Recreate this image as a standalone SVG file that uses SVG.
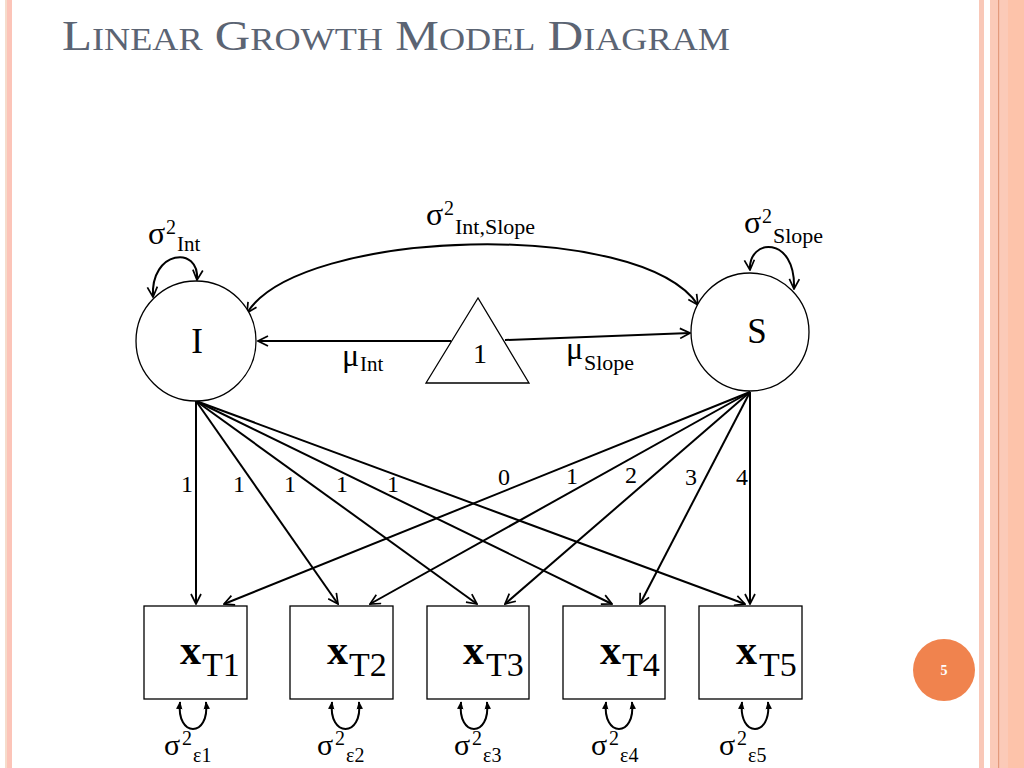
<svg xmlns="http://www.w3.org/2000/svg" width="1024" height="768" viewBox="0 0 1024 768">
<style>
.serif{font-family:"Liberation Serif","Times New Roman",serif;fill:#000}
.ln{stroke:#000;stroke-width:2;fill:none}
.nd{stroke:#000;stroke-width:1.3;fill:#fff}
</style>
<defs>
<marker id="arr" viewBox="0 0 12 12" refX="11" refY="6" markerWidth="12" markerHeight="12" orient="auto-start-reverse" markerUnits="userSpaceOnUse">
<path d="M1,1 L11,6 L1,11" fill="none" stroke="#000" stroke-width="1.7"/>
</marker>
<marker id="sm" viewBox="0 0 10 10" refX="9" refY="5" markerWidth="8" markerHeight="8" orient="auto-start-reverse" markerUnits="userSpaceOnUse">
<path d="M0,1 L10,5 L0,9 Z" fill="#000"/>
</marker>
</defs>
<rect width="1024" height="768" fill="#fff"/>
<g id="borders">
<rect x="5" y="0" width="2" height="768" fill="#f6dccb"/>
<rect x="7" y="0" width="5" height="768" fill="#fcc4b8"/>
<rect x="979" y="0" width="5" height="768" fill="#f9c8b8"/>
<rect x="990" y="0" width="34" height="768" fill="#fbcab8"/>
<rect x="1008" y="0" width="16" height="768" fill="#fdc3aa"/>
<rect x="998" y="0" width="1.2" height="768" fill="#e39a7c"/>
</g>
<text id="title" x="62" y="50" textLength="668" lengthAdjust="spacingAndGlyphs" style="font-family:'Liberation Serif',serif;fill:#5b6473" font-size="42">L<tspan font-size="31">INEAR</tspan> G<tspan font-size="31">ROWTH</tspan> M<tspan font-size="31">ODEL</tspan> D<tspan font-size="31">IAGRAM</tspan></text>

<g id="connectors">
<path class="ln" d="M247,313 C300,228 640,218 698,305" marker-start="url(#arr)" marker-end="url(#arr)"/>
<path class="ln" d="M153,297 C150,250 200,245 197,280" marker-start="url(#arr)" marker-end="url(#arr)" stroke-width="1.6"/>
<path class="ln" d="M750,270 C748,238 796,235 794,289" marker-start="url(#arr)" marker-end="url(#arr)" stroke-width="1.6"/>
<line class="ln" x1="451" y1="341" x2="258" y2="341" marker-end="url(#arr)"/>
<line class="ln" x1="505" y1="340" x2="690" y2="333" marker-end="url(#arr)"/>
<line class="ln" x1="196" y1="401" x2="196" y2="604" marker-end="url(#arr)"/>
<line class="ln" x1="196" y1="401" x2="338" y2="604" marker-end="url(#arr)"/>
<line class="ln" x1="196" y1="401" x2="477" y2="604" marker-end="url(#arr)"/>
<line class="ln" x1="196" y1="401" x2="612" y2="604" marker-end="url(#arr)"/>
<line class="ln" x1="196" y1="401" x2="745" y2="604" marker-end="url(#arr)"/>
<line class="ln" x1="750" y1="392" x2="224" y2="604" marker-end="url(#arr)" stroke-width="3"/>
<line class="ln" x1="750" y1="392" x2="370" y2="604" marker-end="url(#arr)"/>
<line class="ln" x1="750" y1="392" x2="505" y2="604" marker-end="url(#arr)"/>
<line class="ln" x1="750" y1="392" x2="640" y2="604" marker-end="url(#arr)"/>
<line class="ln" x1="750" y1="392" x2="750" y2="604" marker-end="url(#arr)"/>
<path class="ln" stroke-width="1.6" d="M180,702 C176,738 210,738 206,702" marker-start="url(#sm)" marker-end="url(#sm)"/>
<path class="ln" stroke-width="1.6" d="M332,702 C328,738 363,738 359,702" marker-start="url(#sm)" marker-end="url(#sm)"/>
<path class="ln" stroke-width="1.6" d="M461,702 C457,738 491,738 487,702" marker-start="url(#sm)" marker-end="url(#sm)"/>
<path class="ln" stroke-width="1.6" d="M606,702 C602,738 636,738 632,702" marker-start="url(#sm)" marker-end="url(#sm)"/>
<path class="ln" stroke-width="1.6" d="M742,702 C738,738 772,738 768,702" marker-start="url(#sm)" marker-end="url(#sm)"/>
</g>

<g id="labels" class="serif">
<text class="serif" x="148" y="244" font-size="32">σ<tspan x="166" y="234" font-size="20">2</tspan><tspan x="177" y="251" font-size="21">Int</tspan></text>
<text class="serif" x="426" y="225" font-size="32">σ<tspan x="444" y="215" font-size="20">2</tspan><tspan x="455" y="234" font-size="22">Int,Slope</tspan></text>
<text class="serif" x="744" y="233" font-size="32">σ<tspan x="762" y="223" font-size="20">2</tspan><tspan x="773" y="243" font-size="22">Slope</tspan></text>
<text class="serif" x="342" y="366" font-size="32">μ<tspan x="360" y="371" font-size="21">Int</tspan></text>
<text class="serif" x="566" y="359" font-size="32">μ<tspan x="584" y="370" font-size="22">Slope</tspan></text>
<g font-size="24" text-anchor="middle">
<text class="serif" x="187" y="492">1</text>
<text class="serif" x="239" y="492">1</text>
<text class="serif" x="290" y="492">1</text>
<text class="serif" x="342" y="492">1</text>
<text class="serif" x="393" y="492">1</text>
<text class="serif" x="504" y="485">0</text>
<text class="serif" x="572" y="484">1</text>
<text class="serif" x="631" y="483">2</text>
<text class="serif" x="691" y="485">3</text>
<text class="serif" x="742" y="485">4</text>
</g>
<text class="serif" x="164" y="755" font-size="30">σ<tspan x="182" y="745" font-size="20">2</tspan><tspan x="193" y="762" font-size="20">ε1</tspan></text>
<text class="serif" x="317" y="755" font-size="30">σ<tspan x="335" y="745" font-size="20">2</tspan><tspan x="346" y="762" font-size="20">ε2</tspan></text>
<text class="serif" x="454" y="755" font-size="30">σ<tspan x="472" y="745" font-size="20">2</tspan><tspan x="483" y="762" font-size="20">ε3</tspan></text>
<text class="serif" x="591" y="755" font-size="30">σ<tspan x="609" y="745" font-size="20">2</tspan><tspan x="620" y="762" font-size="20">ε4</tspan></text>
<text class="serif" x="719" y="755" font-size="30">σ<tspan x="737" y="745" font-size="20">2</tspan><tspan x="748" y="762" font-size="20">ε5</tspan></text>
</g>

<g id="node-I">
<circle class="nd" cx="196" cy="341" r="60"/>
<text class="serif" x="197" y="353" font-size="35" text-anchor="middle">I</text>
</g>
<g id="node-S">
<circle class="nd" cx="750" cy="332" r="59"/>
<text class="serif" x="757" y="343" font-size="35" text-anchor="middle">S</text>
</g>
<g id="node-one">
<polygon class="nd" points="478,298 426,383 529,383"/>
<text class="serif" x="480" y="363" font-size="28" text-anchor="middle">1</text>
</g>
<g id="node-xT1">
<rect class="nd" x="144" y="606" width="103" height="93"/>
<text class="serif" x="180" y="664" font-size="42" font-weight="bold">x<tspan x="202" y="676" font-size="34" font-weight="normal">T1</tspan></text>
</g>
<g id="node-xT2">
<rect class="nd" x="290" y="606" width="103" height="93"/>
<text class="serif" x="327" y="664" font-size="42" font-weight="bold">x<tspan x="349" y="676" font-size="34" font-weight="normal">T2</tspan></text>
</g>
<g id="node-xT3">
<rect class="nd" x="427" y="606" width="102" height="93"/>
<text class="serif" x="463" y="664" font-size="42" font-weight="bold">x<tspan x="486" y="676" font-size="34" font-weight="normal">T3</tspan></text>
</g>
<g id="node-xT4">
<rect class="nd" x="563" y="606" width="102" height="93"/>
<text class="serif" x="600" y="664" font-size="42" font-weight="bold">x<tspan x="622" y="676" font-size="34" font-weight="normal">T4</tspan></text>
</g>
<g id="node-xT5">
<rect class="nd" x="699" y="606" width="103" height="93"/>
<text class="serif" x="736" y="664" font-size="42" font-weight="bold">x<tspan x="759" y="676" font-size="34" font-weight="normal">T5</tspan></text>
</g>
<g id="page-number">
<circle cx="944" cy="670" r="31" fill="#f0834e"/>
<text x="944" y="675" font-size="14" font-weight="bold" text-anchor="middle" style="font-family:'Liberation Serif',serif;fill:#fff">5</text>
</g>
</svg>
